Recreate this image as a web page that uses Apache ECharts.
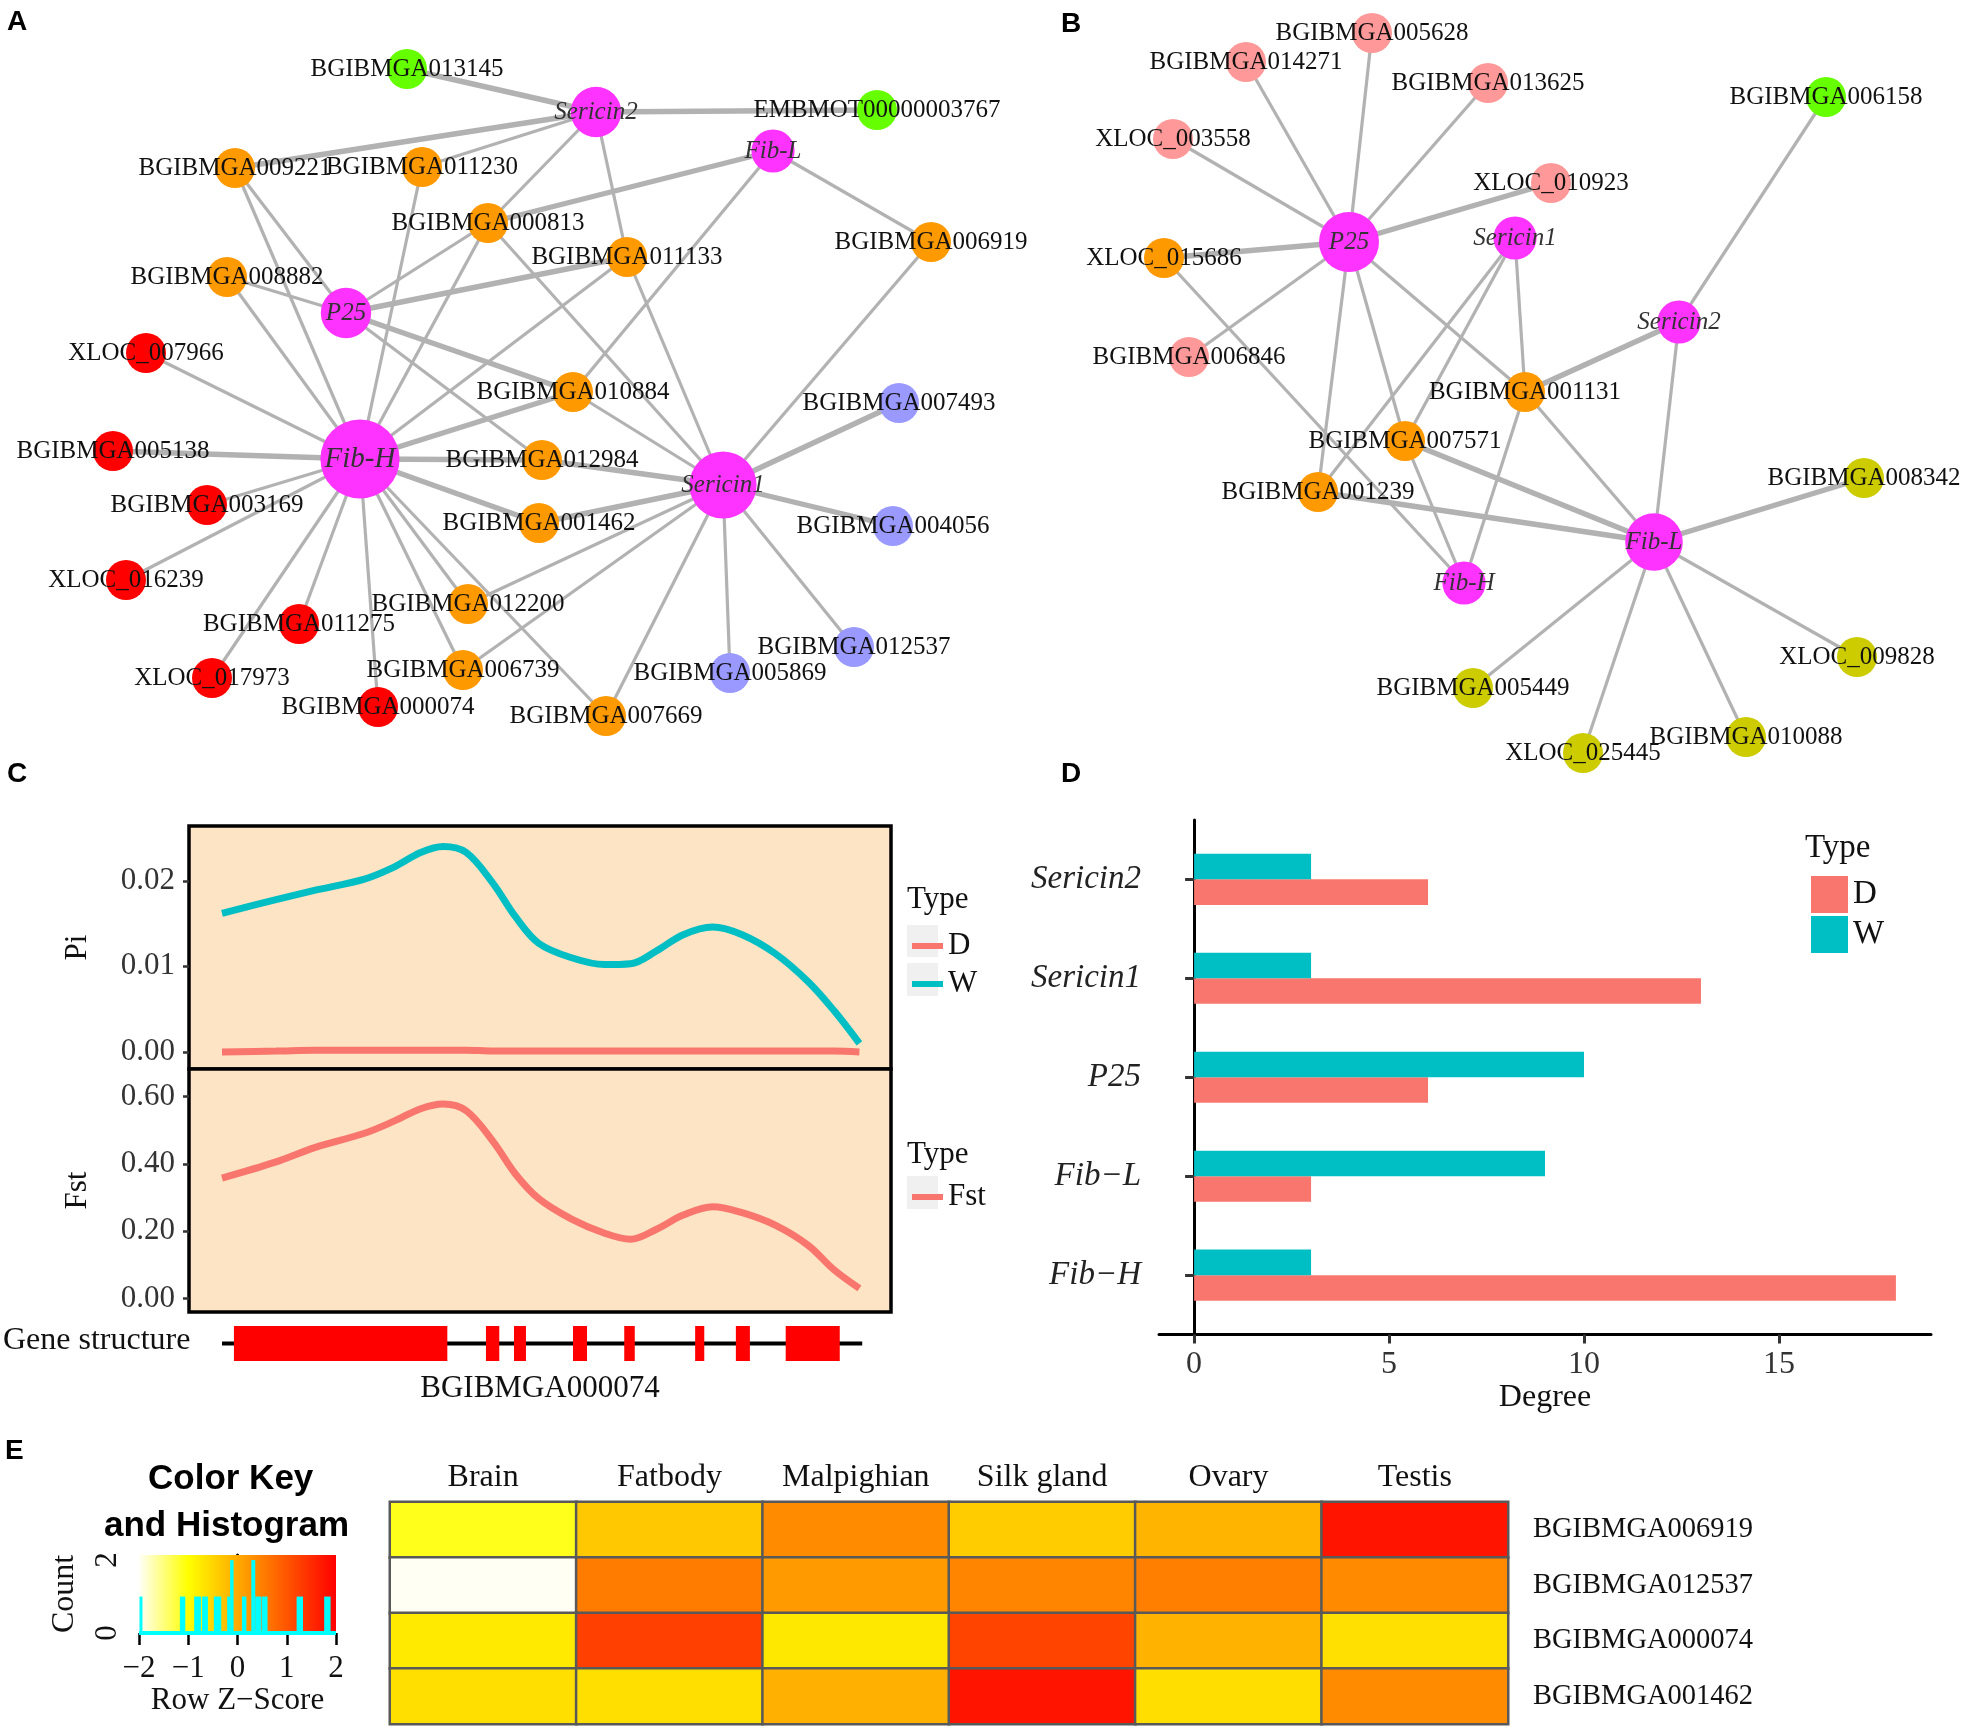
<!DOCTYPE html>
<html><head><meta charset="utf-8">
<script src="https://cdn.jsdelivr.net/npm/echarts@6/dist/echarts.min.js"></script>
<style>html,body{margin:0;padding:0;background:#fff}#c{width:1968px;height:1729px}</style>
</head><body><div id="c"></div>
<script>
// ---------------- DATA ----------------
// Panel A network (layout coordinates of the published figure)
const nodesA = [
  ['Sericin2',596,112,'gene'],['Fib-L',773,151,'gene'],['P25',346,313,'gene'],['Fib-H',360,459,'gene'],['Sericin1',723,485,'gene'],
  ['BGIBMGA013145',407,69,'green'],['EMBMOT00000003767',877,110,'green'],
  ['BGIBMGA009221',235,168,'orange'],['BGIBMGA011230',422,167,'orange'],['BGIBMGA000813',488,223,'orange'],
  ['BGIBMGA011133',627,257,'orange'],['BGIBMGA006919',931,242,'orange'],['BGIBMGA008882',227,277,'orange'],
  ['XLOC_007966',146,353,'red'],['BGIBMGA010884',573,392,'orange'],['BGIBMGA005138',113,451,'red'],
  ['BGIBMGA012984',542,460,'orange'],['BGIBMGA007493',899,403,'blue'],['BGIBMGA003169',207,505,'red'],
  ['BGIBMGA001462',539,523,'orange'],['BGIBMGA004056',893,526,'blue'],['XLOC_016239',126,580,'red'],
  ['BGIBMGA012200',468,604,'orange'],['BGIBMGA011275',299,624,'red'],['BGIBMGA012537',854,647,'blue'],
  ['XLOC_017973',212,678,'red'],['BGIBMGA006739',463,670,'orange'],['BGIBMGA005869',730,673,'blue'],
  ['BGIBMGA000074',378,707,'red'],['BGIBMGA007669',606,716,'orange']
];
const edgesA = [
  ['Sericin2','BGIBMGA013145',2],['Sericin2','EMBMOT00000003767',2],['Sericin2','BGIBMGA009221',2],
  ['Sericin2','BGIBMGA011230',1],['Sericin2','BGIBMGA000813',1],['Sericin2','BGIBMGA011133',1],
  ['Fib-L','BGIBMGA000813',2],['Fib-L','BGIBMGA006919',1],['Fib-L','BGIBMGA010884',1],
  ['P25','BGIBMGA009221',1],['P25','BGIBMGA008882',1],['P25','BGIBMGA011133',2],
  ['P25','BGIBMGA000813',1],['P25','BGIBMGA010884',2],['P25','BGIBMGA012984',1],
  ['Fib-H','BGIBMGA005138',2],['Fib-H','BGIBMGA003169',1],['Fib-H','XLOC_016239',1],['Fib-H','BGIBMGA011275',1],
  ['Fib-H','XLOC_017973',1],['Fib-H','BGIBMGA000074',1],['Fib-H','XLOC_007966',1],['Fib-H','BGIBMGA012984',2],
  ['Fib-H','BGIBMGA001462',2],['Fib-H','BGIBMGA012200',1],['Fib-H','BGIBMGA006739',1],['Fib-H','BGIBMGA007669',1],
  ['Fib-H','BGIBMGA010884',2],['Fib-H','BGIBMGA009221',1],['Fib-H','BGIBMGA008882',1],['Fib-H','BGIBMGA011230',1],
  ['Fib-H','BGIBMGA000813',1],['Fib-H','BGIBMGA011133',1],
  ['Sericin1','BGIBMGA007493',2],['Sericin1','BGIBMGA004056',2],['Sericin1','BGIBMGA012537',1],['Sericin1','BGIBMGA005869',1],
  ['Sericin1','BGIBMGA007669',1],['Sericin1','BGIBMGA006739',1],['Sericin1','BGIBMGA012200',1],['Sericin1','BGIBMGA001462',2],
  ['Sericin1','BGIBMGA012984',2],['Sericin1','BGIBMGA010884',1],['Sericin1','BGIBMGA006919',1],['Sericin1','BGIBMGA011133',1],
  ['Sericin1','BGIBMGA000813',1]
];
// Panel B network
const nodesB = [
  ['P25',1349,242,'gene'],['Sericin1',1515,238,'gene'],['Sericin2',1679,322,'gene'],['Fib-L',1654,542,'gene'],['Fib-H',1464,583,'gene'],
  ['BGIBMGA005628',1372,33,'pink'],['BGIBMGA014271',1246,62,'pink'],['BGIBMGA013625',1488,83,'pink'],
  ['BGIBMGA006158',1826,97,'green'],['XLOC_003558',1173,139,'pink'],['XLOC_010923',1551,183,'pink'],
  ['XLOC_015686',1164,258,'orange'],['BGIBMGA006846',1189,357,'pink'],['BGIBMGA001131',1525,392,'orange'],
  ['BGIBMGA007571',1405,441,'orange'],['BGIBMGA001239',1318,492,'orange'],['BGIBMGA008342',1864,478,'olive'],
  ['XLOC_009828',1857,657,'olive'],['BGIBMGA005449',1473,688,'olive'],['BGIBMGA010088',1746,737,'olive'],
  ['XLOC_025445',1583,753,'olive']
];
const edgesB = [
  ['P25','BGIBMGA005628',1],['P25','BGIBMGA014271',1],['P25','BGIBMGA013625',1],['P25','XLOC_003558',1],
  ['P25','XLOC_010923',2],['P25','XLOC_015686',2],['P25','BGIBMGA006846',1],['P25','BGIBMGA001131',1],
  ['P25','BGIBMGA007571',1],['P25','BGIBMGA001239',1],
  ['Fib-L','BGIBMGA008342',2],['Fib-L','XLOC_009828',1],['Fib-L','BGIBMGA005449',1],['Fib-L','BGIBMGA010088',1],
  ['Fib-L','XLOC_025445',1],['Fib-L','BGIBMGA001239',2],['Fib-L','BGIBMGA007571',2],['Fib-L','BGIBMGA001131',1],
  ['Fib-L','Sericin2',1],
  ['Sericin1','BGIBMGA001131',1],['Sericin1','BGIBMGA007571',1],['Sericin1','BGIBMGA001239',1],
  ['Sericin2','BGIBMGA006158',1],['Sericin2','BGIBMGA001131',2],
  ['Fib-H','BGIBMGA007571',1],['Fib-H','XLOC_015686',1],['Fib-H','BGIBMGA001131',1]
];
// Panel C: sliding-window Pi and Fst along BGIBMGA000074 (relative position, 0-100)
const posC = [4.7,12.4,18.0,25.0,29.2,33.0,36.2,39.5,43.3,46.5,49.8,54.5,59.2,62.9,66.6,70.4,74.6,78.8,83.5,88.2,91.9,95.5];
const piW  = [0.0162,0.0178,0.0189,0.0202,0.0216,0.0233,0.0240,0.0233,0.0197,0.0158,0.0127,0.0110,0.0102,0.0103,0.0118,0.0137,0.0146,0.0137,0.0115,0.0082,0.0048,0.0010];
const piD  = [0.0000,0.0001,0.0002,0.0002,0.0002,0.0002,0.0002,0.0002,0.0001,0.0001,0.0001,0.0001,0.0001,0.0001,0.0001,0.0001,0.0001,0.0001,0.0001,0.0001,0.0001,0.0000];
const fstC = [0.358,0.406,0.449,0.491,0.527,0.564,0.578,0.558,0.467,0.370,0.297,0.236,0.194,0.176,0.206,0.248,0.273,0.255,0.218,0.158,0.085,0.030];
const piTicks = [0, 0.01, 0.02];
const fstTicks = [0, 0.2, 0.4, 0.6];
const geneSpan = [4.7, 95.9];
const exonStart = [6.4, 42.3, 46.3, 54.7, 62.0, 72.1, 77.9, 85.0];
const exonEnd   = [36.8, 44.2, 48.0, 56.7, 63.5, 73.4, 79.9, 92.7];
// Panel D: degree
const genesD = ['Fib\u2212H','Fib\u2212L','P25','Sericin1','Sericin2'];
const degD = [18, 3, 6, 13, 6];
const degW = [3, 9, 10, 3, 3];
const degreeTicks = [0, 5, 10, 15];
// Panel E: heatmap row z-scores
const tissues = ['Brain','Fatbody','Malpighian','Silk gland','Ovary','Testis'];
const heatGenes = ['BGIBMGA006919','BGIBMGA012537','BGIBMGA000074','BGIBMGA001462'];
const zRow1 = [-1.11,-0.35, 0.35,-0.40,-0.12, 1.76];
const zRow2 = [-1.98, 0.54, 0.19, 0.45, 0.50, 0.38];
const zRow3 = [-0.75, 1.25,-0.73, 1.20,-0.11,-0.64];
const zRow4 = [-0.62,-0.62,-0.07, 1.76,-0.61, 0.35];
const histBins = [[-1.99,-1.93,1],[-1.17,-1.06,1],[-0.88,-0.74,1],[-0.72,-0.60,1],[-0.48,-0.33,1],[-0.21,-0.15,1],
  [-0.15,-0.08,2],[0.09,0.18,1],[0.28,0.36,2],[0.36,0.48,1],[0.49,0.61,1],[1.20,1.33,1],[1.76,1.89,1]];
const zTicks = [-2,-1,0,1,2];

// ---------------- STYLE ----------------
const SERIF = 'Liberation Serif', SANS = 'Liberation Sans';
const nodeColor = {gene:'#ff33ff', orange:'#ff9900', red:'#ff0000', green:'#66ff00', blue:'#9999ff', pink:'#ff9999', olive:'#cccc00'};
const RED = '#f8766d', TEAL = '#00bfc4';
const heatColors = ['#fffff8','#ffff00','#ffaa00','#ff5500','#ff0000'];
const BAR_UNITS = 0.258;

function buildGraph(nodes, edges){
  const deg = {};
  edges.forEach(e => { deg[e[0]] = (deg[e[0]]||0)+1; deg[e[1]] = (deg[e[1]]||0)+1; });
  return {
    type:'graph', coordinateSystem:'cartesian2d', xAxisIndex:0, yAxisIndex:0,
    silent:true, emphasis:{disabled:true},
    data: nodes.map(n => {
      const hub = n[3]==='gene';
      const size = hub ? 36 + 2.4*deg[n[0]] : 40;
      return {
        name:n[0], value:[n[1], n[2]], symbol:'circle', symbolSize:size,
        itemStyle:{color:nodeColor[n[3]]},
        label: hub ? {fontStyle:'italic', color:'#333', fontSize:Math.max(25, Math.round(size*0.37))} : {}
      };
    }),
    links: edges.map(e => ({source:e[0], target:e[1], lineStyle:{width: 1 + 2.2*e[2]}})),
    lineStyle:{color:'#b2b2b2', opacity:1, width:3},
    label:{show:true, position:'inside', fontFamily:SERIF, fontSize:25, color:'#111'}
  };
}

const axisTextC = {fontFamily:SERIF, fontSize:31, color:'#333'};
const hidden = {show:false};

const option = {
  animation:false,
  backgroundColor:'#ffffff',
  grid:[
    {left:0, top:0, width:1968, height:770},                 // 0 networks
    {left:189, top:826, width:702, height:243, show:true, backgroundColor:'#fde4c4', borderColor:'#000', borderWidth:3.5}, // 1 Pi
    {left:189, top:1069, width:702, height:243, show:true, backgroundColor:'#fde4c4', borderColor:'#000', borderWidth:3.5}, // 2 Fst
    {left:189, top:1326, width:702, height:35},              // 3 gene
    {left:1159, top:820, width:772, height:514.5},           // 4 degree
    {left:390, top:1502, width:1118, height:222},            // 5 heatmap
    {left:139, top:1555, width:197, height:78}               // 6 key
  ],
  xAxis:[
    {gridIndex:0, type:'value', min:0, max:1968, show:false},
    {gridIndex:1, type:'value', min:0, max:100, show:false},
    {gridIndex:2, type:'value', min:0, max:100, show:false},
    {gridIndex:3, type:'value', min:0, max:100, axisLine:hidden, axisTick:hidden, axisLabel:hidden, splitLine:hidden,
      name:'BGIBMGA000074', nameLocation:'middle', nameGap:12, nameTextStyle:{fontFamily:SERIF, fontSize:31, color:'#111'}},
    {gridIndex:4, type:'value', min:-0.9, max:18.9, splitLine:hidden,
      axisLine:{show:true, lineStyle:{color:'#000', width:3}},
      axisTick:{show:true, customValues:degreeTicks, length:9, lineStyle:{color:'#333', width:3}},
      axisLabel:{customValues:degreeTicks, margin:14, fontFamily:SERIF, fontSize:32, color:'#333'},
      name:'Degree', nameLocation:'middle', nameGap:46, nameTextStyle:{fontFamily:SERIF, fontSize:32, color:'#111'}},
    {gridIndex:5, type:'category', data:tissues, position:'top', axisLine:hidden, axisTick:hidden, splitLine:hidden,
      axisLabel:{interval:0, margin:8, fontFamily:SERIF, fontSize:32, color:'#111'}},
    {gridIndex:6, type:'value', min:-2, max:2, splitLine:hidden, axisLine:hidden,
      axisTick:{show:true, customValues:zTicks, length:12, lineStyle:{color:'#000', width:2.5}},
      axisLabel:{customValues:zTicks, margin:20, fontFamily:SERIF, fontSize:31, color:'#111', formatter:v => String(v).replace('-','\u2212')},
      name:'Row Z\u2212Score', nameLocation:'middle', nameGap:50, nameTextStyle:{fontFamily:SERIF, fontSize:31, color:'#111'}}
  ],
  yAxis:[
    {gridIndex:0, type:'value', min:0, max:770, inverse:true, show:false},
    {gridIndex:1, type:'value', min:-0.002, max:0.0264, splitLine:hidden, axisLine:hidden,
      axisTick:{show:true, customValues:piTicks, length:6, lineStyle:{color:'#333', width:2.5}},
      axisLabel:Object.assign({customValues:piTicks, margin:14, formatter:v => v.toFixed(2)}, axisTextC),
      name:'Pi', nameLocation:'middle', nameGap:96, nameTextStyle:{fontFamily:SERIF, fontSize:31, color:'#111'}},
    {gridIndex:2, type:'value', min:-0.04, max:0.682, splitLine:hidden, axisLine:hidden,
      axisTick:{show:true, customValues:fstTicks, length:6, lineStyle:{color:'#333', width:2.5}},
      axisLabel:Object.assign({customValues:fstTicks, margin:14, formatter:v => v.toFixed(2)}, axisTextC),
      name:'Fst', nameLocation:'middle', nameGap:96, nameTextStyle:{fontFamily:SERIF, fontSize:31, color:'#111'}},
    {gridIndex:3, type:'value', min:-1, max:1, show:false},
    {gridIndex:4, type:'value', min:0.4, max:5.6, splitLine:hidden,
      axisLine:{show:true, lineStyle:{color:'#000', width:3}},
      axisTick:{show:true, customValues:[1,2,3,4,5], length:9, lineStyle:{color:'#333', width:3}},
      axisLabel:{customValues:[1,2,3,4,5], margin:18, formatter:v => genesD[v-1], fontFamily:SERIF, fontStyle:'italic', fontSize:33, color:'#222'}},
    {gridIndex:5, type:'category', data:heatGenes, inverse:true, position:'right', axisLine:hidden, axisTick:hidden, splitLine:hidden,
      axisLabel:{interval:0, margin:25, fontFamily:SERIF, fontSize:28.5, color:'#111'}},
    {gridIndex:6, type:'value', min:0, max:2.14, splitLine:hidden,
      axisLine:{show:true, lineStyle:{color:'#000', width:3}},
      axisTick:{show:true, customValues:[0,0.5,1,1.5,2], length:10, lineStyle:{color:'#000', width:2.5}},
      axisLabel:{customValues:[0,2], rotate:90, margin:16, fontFamily:SERIF, fontSize:31, color:'#111'},
      name:'Count', nameLocation:'middle', nameGap:58, nameTextStyle:{fontFamily:SERIF, fontSize:32, color:'#111'}}
  ],
  visualMap:[{type:'continuous', show:false, min:-2, max:2, seriesIndex:9, inRange:{color:heatColors}}],
  legend:[
    {left:907, top:922, orient:'vertical', icon:'rect', itemWidth:31, itemHeight:6, itemGap:0, selectedMode:false,
      data:['D','W'], textStyle:{fontFamily:SERIF, fontSize:31, lineHeight:38, color:'#111'}},
    {left:907, top:1173, orient:'vertical', icon:'rect', itemWidth:31, itemHeight:6, itemGap:0, selectedMode:false,
      data:['Fst'], textStyle:{fontFamily:SERIF, fontSize:31, lineHeight:38, color:'#111'}},
    {left:1806, top:871, orient:'vertical', icon:'rect', itemWidth:37, itemHeight:37, itemGap:3, selectedMode:false,
      data:['D','W'], textStyle:{fontFamily:SERIF, fontSize:33, color:'#111'}}
  ],
  series:[
    buildGraph(nodesA, edgesA),
    buildGraph(nodesB, edgesB),
    {name:'W', type:'line', xAxisIndex:1, yAxisIndex:1, data:posC.map((x,i)=>[x, piW[i]]), smooth:0.35, symbol:'none',
      lineStyle:{color:TEAL, width:7}, itemStyle:{color:TEAL}, silent:true},
    {name:'D', type:'line', xAxisIndex:1, yAxisIndex:1, data:posC.map((x,i)=>[x, piD[i]]), smooth:0.35, symbol:'none',
      lineStyle:{color:RED, width:7}, itemStyle:{color:RED}, silent:true},
    {name:'Fst', type:'line', xAxisIndex:2, yAxisIndex:2, data:posC.map((x,i)=>[x, fstC[i]]), smooth:0.35, symbol:'none',
      lineStyle:{color:RED, width:7}, itemStyle:{color:RED}, silent:true},
    {name:'intron', type:'line', xAxisIndex:3, yAxisIndex:3, data:[[geneSpan[0],0],[geneSpan[1],0]], symbol:'none',
      lineStyle:{color:'#000', width:4}, silent:true, z:1},
    {name:'exon', type:'custom', xAxisIndex:3, yAxisIndex:3, silent:true, z:3,
      data: exonStart.map((s,i)=>[s, exonEnd[i]]),
      renderItem:(params, api) => {
        const a = api.coord([api.value(0), 1]), b = api.coord([api.value(1), -1]);
        return {type:'rect', shape:{x:a[0], y:a[1], width:b[0]-a[0], height:b[1]-a[1]}, style:{fill:'#ff0000'}};
      }},
    {name:'D', type:'custom', xAxisIndex:4, yAxisIndex:4, silent:true, itemStyle:{color:RED},
      data: degD.map((v,i)=>[v, i+1]),
      renderItem:(params, api) => {
        const p0 = api.coord([0, api.value(1)]), p1 = api.coord([api.value(0), api.value(1)]);
        const h = Math.abs(api.size([0, BAR_UNITS])[1]);
        return {type:'rect', shape:{x:p0[0], y:p0[1], width:p1[0]-p0[0], height:h}, style:{fill:RED}};
      }},
    {name:'W', type:'custom', xAxisIndex:4, yAxisIndex:4, silent:true, itemStyle:{color:TEAL},
      data: degW.map((v,i)=>[v, i+1]),
      renderItem:(params, api) => {
        const p0 = api.coord([0, api.value(1)]), p1 = api.coord([api.value(0), api.value(1)]);
        const h = Math.abs(api.size([0, BAR_UNITS])[1]);
        return {type:'rect', shape:{x:p0[0], y:p0[1]-h, width:p1[0]-p0[0], height:h}, style:{fill:TEAL}};
      }},
    {name:'expr', type:'heatmap', xAxisIndex:5, yAxisIndex:5, silent:true,
      data: [zRow1, zRow2, zRow3, zRow4].flatMap((row, r) => row.map((z, c) => [c, r, z])),
      itemStyle:{borderColor:'#595959', borderWidth:2.5}, emphasis:{disabled:true}},
    {name:'key', type:'custom', xAxisIndex:6, yAxisIndex:6, silent:true, z:1,
      data:[[0,0]],
      renderItem:(params, api) => {
        const cs = params.coordSys;
        const base = api.coord([0, 0]);
        return {type:'group', children:[
          {type:'rect', shape:{x:cs.x, y:cs.y, width:cs.width, height:cs.height},
            style:{fill:new echarts.graphic.LinearGradient(0,0,1,0, heatColors.map((c,i)=>({offset:i/(heatColors.length-1), color:c})))}},
          {type:'line', shape:{x1:cs.x, y1:base[1], x2:cs.x+cs.width, y2:base[1]}, style:{stroke:'#00ffff', lineWidth:4}, z2:5}
        ]};
      }},
    {name:'hist', type:'custom', xAxisIndex:6, yAxisIndex:6, silent:true, z:2,
      encode:{x:[0,1], y:2},
      data: histBins,
      renderItem:(params, api) => {
        const a = api.coord([api.value(0), api.value(2)]), b = api.coord([api.value(1), 0]);
        return {type:'rect', shape:{x:a[0], y:a[1], width:b[0]-a[0], height:b[1]-a[1]}, style:{fill:'#00ffff'}};
      }}
  ],
  graphic:[
    {type:'text', left:7, top:8, style:{text:'A', font:'bold 28px '+SANS, fill:'#000'}},
    {type:'text', left:1061, top:10, style:{text:'B', font:'bold 28px '+SANS, fill:'#000'}},
    {type:'text', left:7, top:760, style:{text:'C', font:'bold 28px '+SANS, fill:'#000'}},
    {type:'text', left:1061, top:760, style:{text:'D', font:'bold 28px '+SANS, fill:'#000'}},
    {type:'text', left:5, top:1437, style:{text:'E', font:'bold 28px '+SANS, fill:'#000'}},
    {type:'text', left:907, top:884, style:{text:'Type', font:'31px '+SERIF, fill:'#111'}},
    {type:'text', left:907, top:1139, style:{text:'Type', font:'31px '+SERIF, fill:'#111'}},
    {type:'text', left:1805, top:832, style:{text:'Type', font:'33px '+SERIF, fill:'#111'}},
    {type:'rect', left:907, top:925, shape:{width:31, height:32}, style:{fill:'#f0f0f0'}, z:-1},
    {type:'rect', left:907, top:963, shape:{width:31, height:33}, style:{fill:'#f0f0f0'}, z:-1},
    {type:'rect', left:907, top:1176, shape:{width:31, height:33}, style:{fill:'#f0f0f0'}, z:-1},
    {type:'text', left:3, top:1325, style:{text:'Gene structure', font:'32px '+SERIF, fill:'#111'}},
    {type:'text', left:148, top:1462, style:{text:'Color Key', font:'bold 35px '+SANS, fill:'#000'}},
    {type:'text', left:104, top:1509, style:{text:'and Histogram', font:'bold 35px '+SANS, fill:'#000'}}
  ]
};
const chart = echarts.init(document.getElementById('c'), null, {renderer:'canvas'});
chart.setOption(option);
</script>
</body></html>
